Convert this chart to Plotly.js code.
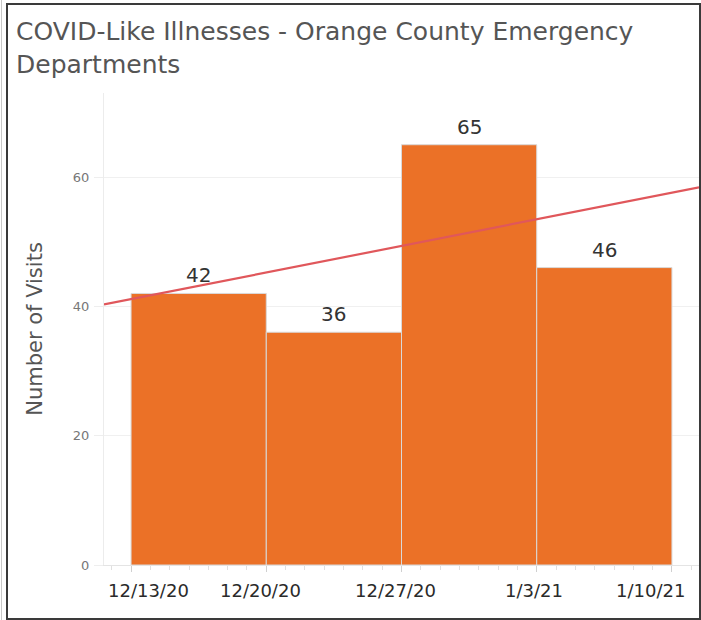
<!DOCTYPE html>
<html>
<head>
<meta charset="utf-8">
<script src="https://cdn.plot.ly/plotly-3.0.1.min.js"></script>
<style>
  html, body { margin: 0; padding: 0; background: #fff; }
  #wrap { position: relative; width: 701px; height: 620px; overflow: hidden; }
  #chart { position: absolute; left: 0; top: 0; width: 701px; height: 620px; }
  #frame { position: absolute; left: 6px; top: 3px; width: 691px; height: 613px; border: 2px solid #3a3a3a; pointer-events: none; }
  #edge { position: absolute; left: 1px; top: 0; width: 1px; height: 620px; background: #c8c8c8; pointer-events: none; }
</style>
</head>
<body>
<div id="wrap">
  <div id="chart"></div>
  <div id="frame"></div>
  <div id="edge"></div>
</div>
<script>
// ---- data ----
const weekStarts = ['2020-12-13', '2020-12-20', '2020-12-27', '2021-01-03'];
const visits = [42, 36, 65, 46];
const tickDates = ['2020-12-13', '2020-12-20', '2020-12-27', '2021-01-03', '2021-01-10'];
const tickLabels = ['12/13/20', '12/20/20', '12/27/20', '1/3/21', '1/10/21'];
const trendDates = ['2020-12-11 14:24', '2021-01-11 09:36'];
const trendValues = [40.3, 58.4];
const xRange = ['2020-12-11 14:24', '2021-01-11 09:36'];
const yTicks = [0, 20, 40, 60];

// ---- style ----
const tickLabelShift = [17, -6, -6, -3, -21];
const DAY = 86400000;
const WEEK = 7 * DAY;
const FONT = 'DejaVu Sans, sans-serif';

function centerOf(d) {
  return new Date(new Date(d + 'T00:00:00Z').getTime() + WEEK / 2).toISOString().replace('T', ' ').replace('Z', '');
}

const bars = {
  type: 'bar',
  x: weekStarts,
  y: visits,
  width: weekStarts.map(() => WEEK),
  offset: 0,
  marker: { color: '#EB7127', line: { color: '#d9d9d9', width: 1 } },
  hoverinfo: 'skip'
};

const trend = {
  type: 'scatter',
  mode: 'lines',
  x: trendDates,
  y: trendValues,
  line: { color: '#E0575B', width: 2.2 },
  hoverinfo: 'skip'
};

const valueLabels = weekStarts.map((d, i) => ({
  x: centerOf(d),
  y: visits[i],
  xref: 'x', yref: 'y',
  text: String(visits[i]),
  showarrow: false,
  yanchor: 'bottom',
  yshift: 4,
  font: { family: FONT, size: 20, color: '#333' }
}));

const xLabels = tickDates.map((d, i) => ({
  x: d,
  y: 0,
  xref: 'x', yref: 'paper',
  text: tickLabels[i],
  showarrow: false,
  yanchor: 'middle',
  xanchor: 'center',
  yshift: -25,
  xshift: tickLabelShift[i],
  font: { family: FONT, size: 18, color: '#2a2a2a' }
}));

const layout = {
  width: 701,
  height: 620,
  margin: { l: 104, r: 2, t: 93, b: 55 },
  paper_bgcolor: '#fff',
  plot_bgcolor: '#fff',
  showlegend: false,
  title: {
    text: 'COVID-Like Illnesses - Orange County Emergency<br>Departments',
    x: 0, xref: 'container', xanchor: 'left',
    y: 1 - 40 / 620, yref: 'container', yanchor: 'top',
    pad: { l: 16 },
    font: { family: FONT, size: 25, color: '#555' }
  },
  xaxis: {
    type: 'date',
    range: xRange,
    tickmode: 'array',
    tickvals: tickDates,
    ticktext: tickLabels,
    showticklabels: false,
    ticks: 'outside',
    ticklen: 6,
    tickcolor: '#d0d0d0',
    showgrid: false,
    showline: true,
    linecolor: '#e4e4e4',
    zeroline: false,
    minor: { tickmode: 'linear', tick0: '2020-12-13', dtick: DAY, ticks: 'outside', ticklen: 4, tickcolor: '#e0e0e0', showgrid: false }
  },
  yaxis: {
    range: [0, 73],
    tickmode: 'array',
    tickvals: yTicks,
    ticks: 'outside',
    ticklen: 9,
    tickcolor: '#eeeeee',
    showgrid: true,
    gridcolor: '#f0f0f0',
    showline: true,
    linecolor: '#ececec',
    zeroline: false,
    ticklabelstandoff: 2,
    tickfont: { family: FONT, size: 13, color: '#777' },
    title: { text: 'Number of Visits', standoff: 24, font: { family: FONT, size: 21, color: '#555' } }
  },
  annotations: valueLabels.concat(xLabels)
};

Plotly.newPlot('chart', [bars, trend], layout, { staticPlot: true, displayModeBar: false });
</script>
</body>
</html>
